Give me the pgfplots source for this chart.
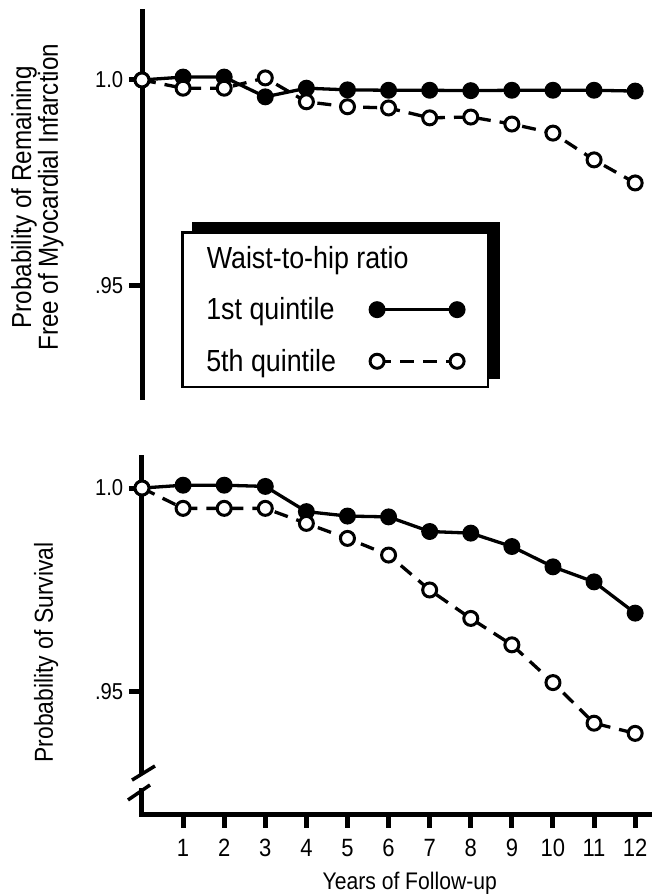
\documentclass[border=0pt]{standalone}
\usepackage{fontspec}
\setmainfont{Liberation Sans}[FakeStretch=0.88]
\usepackage{pgfplots}
\pgfplotsset{compat=1.18}

% 1 px of the reference = 1 pt here
\pgfplotsset{
    every axis/.append style={line width=5pt},
    panel/.style={
        scale only axis,
        width=510pt,
        xmin=0, xmax=12.41,
        clip=false,
        axis y line*=left,
        axis line style={-, line width=5pt, line cap=rect},
        every outer y axis line/.append style={line width=5pt},
        every outer x axis line/.append style={line width=5pt},
        tick align=outside,
        major tick length=13pt,
        tick style={line width=5pt, black},
        ytick={0.95,1}, yticklabels={.95,1.0},
        yticklabel style={font=\fontsize{23}{24}\selectfont},
        ylabel style={align=center, anchor=center},
    },
    q1/.style={black, line width=3.3pt, mark=*, mark size=6.8pt, mark options={solid}},
    q5/.style={black, line width=3.3pt, dash pattern=on 14pt off 9pt,
        mark=*, mark size=7pt, mark options={solid, fill=white, line width=3pt}},
}

\begin{document}
\begin{tikzpicture}
\useasboundingbox (0pt,0pt) rectangle (652pt,896pt);

% myocardial infarction
\begin{axis}[
    panel,
    at={(142pt,498pt)}, anchor=south west,
    height=386pt,
    ymin=0.9228, ymax=1.0165,
    axis x line=none,
    ylabel={Probability of Remaining\\Free of Myocardial Infarction},
    ylabel style={at={(axis description cs:-0.205,0.52)},
        font=\fontsize{27.5}{25}\selectfont},
    legend style={
        name=lgd,
        at={(axis description cs:0.0765,0.4326)}, anchor=north west,
        draw=black, line width=2.5pt, fill=white,
        inner xsep=24pt, inner ysep=14pt,
        row sep=28pt, column sep=34pt,
        font=\fontsize{30.5}{31}\selectfont,
        nodes={inner sep=0pt},
    },
    legend cell align=left,
    legend plot pos=right,
    legend image code/.code={\draw[#1] plot coordinates {(0pt,0pt) (80pt,0pt)};},
]
\addlegendimage{empty legend}
\addlegendentry{\makebox[0pt][l]{Waist-to-hip ratio}}
\addplot[q1] coordinates {
    (0,1.0) (1,1.0007) (2,1.0007) (3,0.9959) (4,0.998) (5,0.9976) (6,0.9975)
    (7,0.9975) (8,0.9974) (9,0.9975) (10,0.9975) (11,0.9975) (12,0.9973)};
\addlegendentry{1st quintile}
\addplot[q5] coordinates {
    (0,1.0) (1,0.998) (2,0.998) (3,1.0005) (4,0.9947) (5,0.9935) (6,0.9932)
    (7,0.9908) (8,0.991) (9,0.9893) (10,0.9871) (11,0.9806) (12,0.975)};
\addlegendentry{5th quintile}
\end{axis}
% offset shadow of the legend box (top and right bands)
\fill[black] ([xshift=11pt]lgd.north west) rectangle ([xshift=11pt,yshift=9pt]lgd.north east);
\fill[black] ([yshift=9pt]lgd.south east) rectangle ([xshift=11pt,yshift=9pt]lgd.north east);

% survival
\begin{axis}[
    panel,
    at={(142pt,81pt)}, anchor=south west,
    height=357pt,
    ymin=0.9195, ymax=1.0074,
    axis x line*=bottom,
    xtick={1,2,3,4,5,6,7,8,9,10,11,12},
    xticklabels={1,2,3,4,5,6,7,8,9,10,11,12},
    xticklabel style={font=\fontsize{25}{26}\selectfont, yshift=-5pt},
    xlabel={Years of Follow-up},
    xlabel style={at={(axis description cs:0.525,-0.210)}, anchor=base,
        font=\fontsize{24}{25}\selectfont},
    ylabel={Probability of Survival},
    ylabel style={at={(axis description cs:-0.188,0.455)},
        font=\fontsize{26}{25}\selectfont},
]
\addplot[q1] coordinates {
    (0,1.0) (1,1.0007) (2,1.0007) (3,1.0004) (4,0.9942) (5,0.9931) (6,0.9929)
    (7,0.9893) (8,0.9889) (9,0.9856) (10,0.9806) (11,0.9769) (12,0.9692)};
\addplot[q5] coordinates {
    (0,1.0) (1,0.995) (2,0.995) (3,0.995) (4,0.9913) (5,0.9876) (6,0.9835)
    (7,0.9749) (8,0.9679) (9,0.9614) (10,0.9521) (11,0.9421) (12,0.9396)};
% axis break
\fill[white] (axis cs:-0.15,0.9262) rectangle (axis cs:0.15,0.9297);
\draw[line width=3.5pt] (axis cs:-0.243,0.9281) -- (axis cs:0.316,0.93157);
\draw[line width=3.5pt] (axis cs:-0.341,0.9232) -- (axis cs:0.195,0.92689);
\end{axis}
\end{tikzpicture}
\end{document}
